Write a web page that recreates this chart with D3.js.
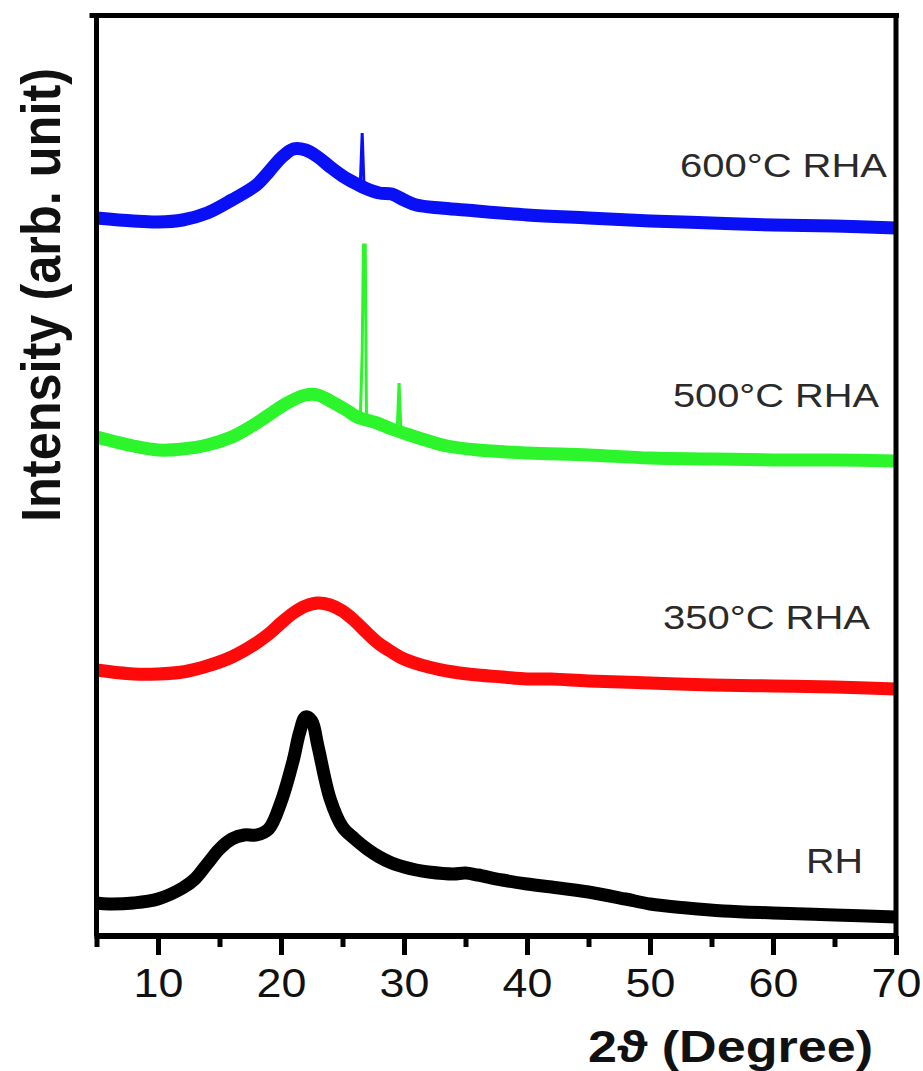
<!DOCTYPE html>
<html>
<head>
<meta charset="utf-8">
<script src="https://cdn.jsdelivr.net/npm/d3@7"></script>
<style>
  html, body { margin: 0; padding: 0; background: #fff; }
  svg { display: block; }
</style>
</head>
<body>
<svg id="chart" width="923" height="1071"></svg>
<script>
// ---------- data (2θ in degrees, intensity in arbitrary units) ----------
const xTicksMajor = [10, 20, 30, 40, 50, 60, 70];
const xTicksMinor = [5, 15, 25, 35, 45, 55, 65];

const rhTheta = [5, 6, 8, 10, 12, 13, 14, 15, 16, 17, 18, 19, 20, 21, 21.5, 22, 22.5, 23, 24, 25, 26, 27, 28, 29, 30, 31, 32, 34, 35, 36, 38, 40, 42, 45, 48, 50, 53, 56, 60, 65, 70];
const rhValues = [33, 32, 33, 37, 48, 57, 72, 87, 97, 101, 101, 107, 134, 176, 203, 219, 215, 190, 137, 109, 97, 87, 79, 73, 69, 66, 64, 62, 63, 61, 56, 52, 49, 44, 37, 32, 28, 25, 23, 21, 19];

const rha350Theta = [5, 8, 10, 12, 14, 16, 18, 19, 20, 21, 22, 23, 24, 25, 26, 27, 28, 29, 30, 32, 34, 36, 38, 40, 42, 45, 50, 55, 60, 65, 70];
const rha350Values = [266, 262, 262, 264, 270, 279, 293, 302, 313, 323, 330, 333, 331, 325, 315, 303, 292, 284, 277, 269, 264, 261, 259, 257, 257, 255, 253, 251, 250, 249, 247];

const rha500Theta = [5, 8, 10, 12, 14, 16, 17.5, 19, 20.5, 22, 23, 24, 25.3, 26.2, 27.8, 29, 30.2, 32, 33.5, 36, 40, 45, 50, 55, 60, 65, 70];
const rha500Values = [499, 490, 486, 487, 491, 499, 509, 521, 533, 541, 541, 535, 526, 519, 513, 507, 502, 495, 490, 486, 483, 481, 478, 477, 476, 476, 475];

const rha600Theta = [5, 8, 10, 12, 14, 16, 18, 19, 20, 21, 22, 23, 24, 25, 26, 27, 28, 29, 30, 31, 33, 35, 40, 45, 50, 55, 60, 65, 70];
const rha600Values = [718, 715, 714, 716, 723, 736, 751, 764, 778, 787, 786, 779, 769, 760, 753, 747, 743, 742, 736, 731, 728, 726, 721, 718, 715, 713, 711, 710, 708];

// sharp crystalline reflections: [2θ, intensity]
const rha500Peak1 = [[26.45, 518], [26.6, 583], [26.7, 691], [26.85, 691], [26.95, 517]];
const rha500Peak2 = [[29.45, 506], [29.6, 553], [29.75, 505]];
const rha600Peak1 = [[26.45, 753], [26.6, 803], [26.75, 749]];

const seriesNames = ["RH", "350°C RHA", "500°C RHA", "600°C RHA"];
const seriesColors = ["#000000", "#ff0a0a", "#2cf52c", "#0a10f5"];

// ---------- layout ----------
const svg = d3.select("#chart");
const x = d3.scaleLinear().domain([5, 70]).range([96.5, 896]);
const y = d3.scaleLinear().domain([0, 922]).range([936, 14]);

const font = "'Liberation Sans', Arial, Helvetica, sans-serif";

const series = [
  { name: seriesNames[0], color: seriesColors[0], pts: d3.zip(rhTheta, rhValues), peaks: [] },
  { name: seriesNames[1], color: seriesColors[1], pts: d3.zip(rha350Theta, rha350Values), peaks: [] },
  { name: seriesNames[2], color: seriesColors[2], pts: d3.zip(rha500Theta, rha500Values), peaks: [rha500Peak1, rha500Peak2] },
  { name: seriesNames[3], color: seriesColors[3], pts: d3.zip(rha600Theta, rha600Values), peaks: [rha600Peak1] }
];

const line = d3.line().x(d => x(d[0])).y(d => y(d[1])).curve(d3.curveCatmullRom.alpha(0.5));
const peakLine = d3.line().x(d => x(d[0])).y(d => y(d[1]));

const plot = svg.append("g");
series.forEach(s => {
  plot.append("path")
    .attr("d", line(s.pts))
    .attr("fill", "none")
    .attr("stroke", s.color)
    .attr("stroke-width", 13)
    .attr("stroke-linejoin", "round")
    .attr("stroke-linecap", "butt");
  s.peaks.forEach(p => {
    plot.append("path")
      .attr("d", peakLine(p))
      .attr("fill", "none")
      .attr("stroke", s.color)
      .attr("stroke-width", 3)
      .attr("stroke-linejoin", "miter");
  });
});

// ---------- frame ----------
const frame = svg.append("g").attr("stroke", "#000").attr("stroke-linecap", "butt");
frame.append("line").attr("x1", x(5) - 7).attr("x2", x(70) + 3).attr("y1", y(920.5)).attr("y2", y(920.5)).attr("stroke-width", 5);
frame.append("line").attr("x1", x(5)).attr("x2", x(5)).attr("y1", y(923)).attr("y2", y(0)).attr("stroke-width", 5);
frame.append("line").attr("x1", x(70)).attr("x2", x(70)).attr("y1", y(923)).attr("y2", y(0)).attr("stroke-width", 5);

// ---------- x axis ----------
const axisG = svg.append("g").attr("transform", `translate(0,${y(0)})`);
axisG.call(d3.axisBottom(x).tickValues(xTicksMajor).tickSize(19).tickPadding(14).tickFormat(d3.format("d")));
axisG.select(".domain").attr("d", `M${x(5) - 2},0H${x(70) + 2}`).attr("stroke", "#000").attr("stroke-width", 6);
axisG.selectAll(".tick line").attr("stroke", "#000").attr("stroke-width", 5);
axisG.selectAll(".tick text")
  .attr("fill", "#111")
  .attr("font-family", font)
  .attr("font-size", 40)
  .attr("transform", "scale(1.12,1)");
axisG.attr("font-size", 40);

const minorG = svg.append("g").attr("transform", `translate(0,${y(0)})`);
minorG.call(d3.axisBottom(x).tickValues(xTicksMinor).tickSize(11).tickFormat(""));
minorG.select(".domain").remove();
minorG.selectAll(".tick line").attr("stroke", "#000").attr("stroke-width", 5);

// ---------- series labels ----------
const labelPos = [
  { xStart: 806, base: 873, size: 35, len: 57 },
  { xStart: 663, base: 629, size: 34, len: 207 },
  { xStart: 673, base: 407, size: 34, len: 206 },
  { xStart: 680, base: 177, size: 34, len: 207 }
];
series.forEach((s, i) => {
  svg.append("text")
    .attr("x", labelPos[i].xStart)
    .attr("y", labelPos[i].base)
    .attr("font-family", font)
    .attr("font-size", labelPos[i].size)
    .attr("textLength", labelPos[i].len)
    .attr("lengthAdjust", "spacingAndGlyphs")
    .attr("fill", "#2a2a2a")
    .text(s.name);
});

// ---------- axis titles ----------
svg.append("text")
  .attr("x", 588).attr("y", 1062)
  .attr("font-family", font).attr("font-weight", "bold").attr("font-size", 44)
  .attr("fill", "#111")
  .attr("textLength", 285).attr("lengthAdjust", "spacingAndGlyphs")
  .text("2ϑ (Degree)");

svg.append("text")
  .attr("transform", "translate(60,522) rotate(-90)")
  .attr("x", 0).attr("y", 0)
  .attr("font-family", font).attr("font-weight", "bold").attr("font-size", 56)
  .attr("fill", "#111")
  .attr("textLength", 454).attr("lengthAdjust", "spacingAndGlyphs")
  .text("Intensity (arb. unit)");
</script>
</body>
</html>
